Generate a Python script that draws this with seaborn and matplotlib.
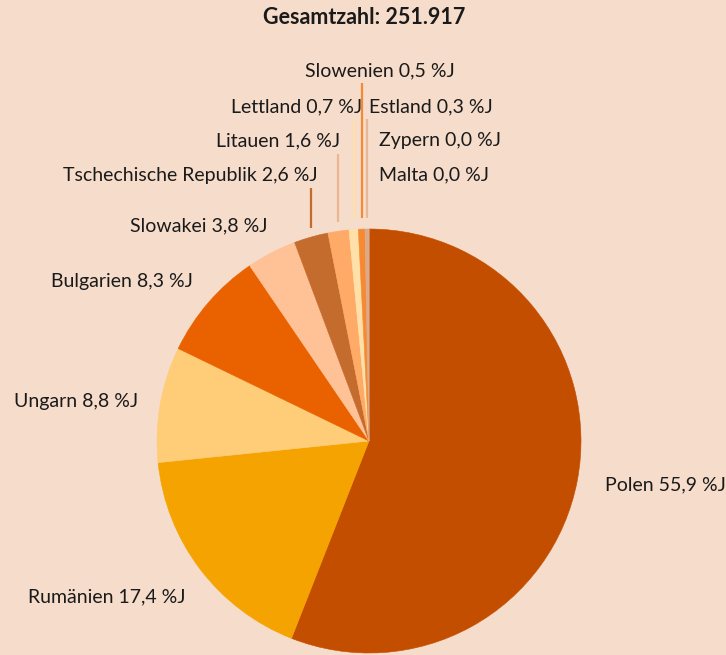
import numpy as np
import matplotlib.pyplot as plt
import seaborn as sns

# Daten
laender = ["Polen", "Rumänien", "Ungarn", "Bulgarien", "Slowakei",
           "Tschechische Republik", "Litauen", "Lettland", "Slowenien",
           "Estland", "Zypern", "Malta"]
anteile = [55.9, 17.4, 8.8, 8.3, 3.8, 2.6, 1.6, 0.7, 0.5, 0.3, 0.0, 0.0]
gesamtzahl = "251.917"

farben = ["#c44e00", "#f5a300", "#ffcc77", "#ea6100", "#ffc196", "#c46b2e",
          "#ffaa66", "#ffe0a8", "#f58a33", "#dcaa8a", "#dcaa8a", "#dcaa8a"]
farben_linie = {"Tschechische Republik": "#c46b2e", "Litauen": "#e9b690",
                "Lettland": "#ffe0a8", "Slowenien": "#f58a33", "Estland": "#e6b898"}

HG = "#f6dccb"
W, H = 726, 655
CX, CY, R = 369, 441, 212

sns.set_style("white")
plt.rcParams['font.family'] = ['Lato', 'DejaVu Sans']

fig = plt.figure(figsize=(W / 100, H / 100), dpi=100, facecolor=HG)

# Kreisdiagramm
ax = fig.add_axes([(CX - R) / W, (H - CY - R) / H, 2 * R / W, 2 * R / H])
ax.set_facecolor(HG)
wedges, _ = ax.pie(anteile, colors=farben, startangle=90, counterclock=False,
                   radius=1, wedgeprops=dict(linewidth=0.4, antialiased=True))
for w, c in zip(wedges, farben):
    w.set_edgecolor(c)
ax.set_xlim(-1, 1)
ax.set_ylim(-1, 1)
ax.set_aspect('equal')
ax.axis('off')

# Hinweislinien (Pixel oben/unten)
linien = {"Tschechische Republik": (188, 228), "Litauen": (154, 222),
          "Lettland": (119, 218), "Slowenien": (83, 218), "Estland": (119, 218)}
for land, w in zip(laender, wedges):
    if land in linien:
        mitte = np.deg2rad((w.theta1 + w.theta2) / 2)
        x = np.cos(mitte)
        oben, unten = linien[land]
        ax.plot([x, x], [(CY - oben) / R, (CY - unten) / R], color=farben_linie[land],
                lw=1.6, solid_capstyle='butt', clip_on=False)

# Beschriftungen (Pixel-Koordinaten)
ov = fig.add_axes([0, 0, 1, 1])
ov.set_xlim(0, W)
ov.set_ylim(H, 0)
ov.axis('off')
ov.patch.set_alpha(0)

pos = {"Polen": (605, 490, 'left'), "Rumänien": (185, 602, 'right'),
       "Ungarn": (138, 407, 'right'), "Bulgarien": (193, 287, 'right'),
       "Slowakei": (268, 231, 'right'), "Tschechische Republik": (318, 181, 'right'),
       "Litauen": (340, 146, 'right'), "Lettland": (362, 112, 'right'),
       "Slowenien": (305, 76, 'left'), "Estland": (369, 112, 'left'),
       "Zypern": (379, 146, 'left'), "Malta": (379, 180, 'left')}

for land, wert in zip(laender, anteile):
    x, y, ha = pos[land]
    txt = f"{land} {wert:.1f}".replace(".", ",") + " %J"
    ov.text(x, y, txt, ha=ha, va='baseline', fontsize=14, color="#1a1a1a")

ov.text(364, 24, f"Gesamtzahl: {gesamtzahl}", ha='center', va='baseline',
        fontsize=15.5, fontweight='bold', color="#1a1a1a")

fig.savefig("out.png", dpi=100, facecolor=HG)
